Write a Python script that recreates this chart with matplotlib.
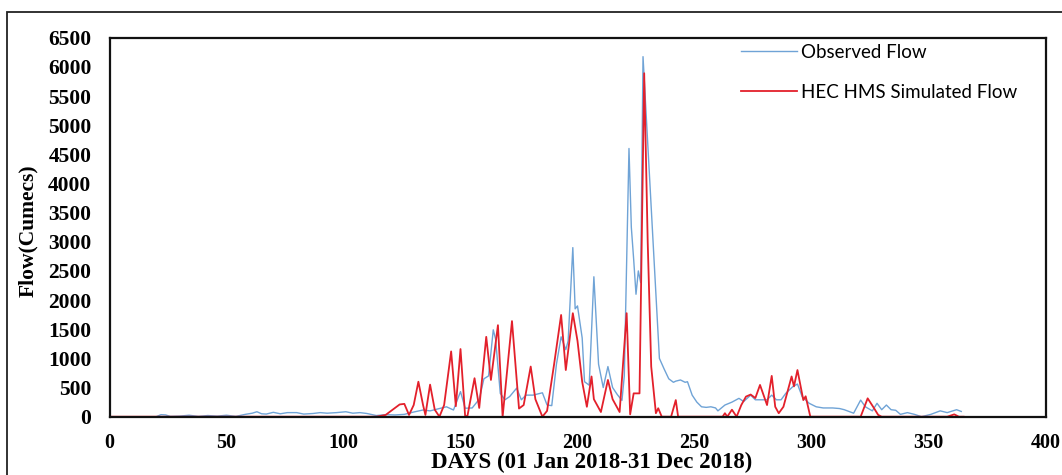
import matplotlib
matplotlib.use("Agg")
import matplotlib.pyplot as plt
from matplotlib.patches import Rectangle

# Observed flow vertices (day, cumecs)
obs_days = [20, 22, 24, 26, 30, 34, 38, 42, 46, 50, 54, 58, 61, 63, 65, 67, 70, 73, 76, 80,
            83, 87, 90, 93, 97, 101, 104, 107, 110, 114, 118, 122, 126, 130, 134, 137, 140,
            144, 147, 150, 152, 155, 158, 160, 162, 164, 165, 167, 169, 171, 174, 176, 178,
            181, 183, 185, 187, 189, 191, 193, 195, 196, 198, 199, 200, 202, 203, 205, 207,
            209, 211, 213, 215, 217, 219, 220, 222, 223, 224, 225, 226, 227, 228, 235, 237,
            239, 241, 242, 244, 246, 247, 249, 251, 253, 255, 257, 259, 260, 263, 266, 269,
            271, 274, 276, 279, 281, 283, 285, 287, 289, 292, 294, 296, 299, 302, 305, 309,
            312, 314, 318, 321, 323, 326, 328, 330, 332, 334, 336, 338, 341, 344, 347, 351,
            355, 358, 362, 364]
obs_flow = [0, 35, 30, 5, 10, 25, 5, 20, 10, 25, 5, 40, 60, 85, 50, 45, 75, 50, 70, 70,
            45, 55, 70, 60, 70, 85, 60, 70, 55, 20, 35, 30, 40, 80, 115, 100, 130,
            170, 115, 430, 145, 150, 300, 650, 700, 1490, 1330, 400, 290, 345, 490, 290, 370,
            370, 390, 410, 200, 190, 900, 1370, 1150, 1300, 2900, 1850, 1900, 1350, 600, 540, 2400,
            900, 500, 860, 500, 380, 280, 700, 4600, 3250, 2700, 2100, 2500, 2300, 6175, 1000, 820,
            650, 590, 610, 630, 590, 600, 370, 250, 170, 160, 170, 150, 100, 200, 250, 315,
            260, 370, 290, 290, 290, 370, 290, 290, 400, 515, 560, 345, 230, 170, 150, 150,
            140, 120, 60, 285, 170, 100, 230, 120, 200, 120, 110, 40, 70, 40, 0, 40,
            100, 70, 120, 90]

# HEC HMS simulated flow vertices
sim_days = [1, 114, 118, 121, 124, 126, 128, 130, 132, 134, 135, 137, 139, 141, 143, 146, 148,
            150, 152, 153, 156, 158, 161, 163, 166, 168, 172, 175, 177, 180, 182, 185, 187, 190,
            193, 195, 198, 200, 202, 204, 206, 207, 210, 213, 215, 218, 221, 222.5, 224, 226.5,
            228.5, 230, 231.5, 233.5, 234.5, 236, 240, 242, 243, 262, 263, 264, 266, 268, 270,
            272, 274, 276, 278, 281, 283, 284.5, 286, 288, 291.5, 292.5, 294, 296.5, 297.5,
            299.5, 321, 324, 326.5, 328.5, 330, 358, 361, 363, 365]
sim_flow = [0, 0, 30, 120, 210, 220, 30, 200, 600, 200, 30, 550, 120, 0, 200, 1120, 180,
            1160, 0, 20, 660, 150, 1370, 630, 1570, 0, 1640, 140, 200, 860, 300, 0, 100, 900,
            1745, 800, 1775, 1300, 600, 170, 690, 300, 80, 630, 300, 80, 1775, 40, 400, 400,
            5890, 3000, 860, 60, 145, 0, 0, 285, 0, 0, 60, 0, 120, 0, 200,
            345, 380, 320, 545, 200, 700, 170, 60, 170, 690, 520, 800, 285, 350,
            0, 0, 315, 160, 30, 0, 0, 40, 0, 0]

x_ticks = list(range(0, 401, 50))
y_ticks = list(range(0, 6501, 500))

W, H = 1062, 475
fig = plt.figure(figsize=(W / 100, H / 100), dpi=100)

# outer frame of the original figure (left and top edges visible)
fig.patches.append(Rectangle((7 / W, -0.05), 1.1, (H - 12) / H + 0.05, transform=fig.transFigure,
                             fill=False, edgecolor="#222222", linewidth=1.3))

ax = fig.add_axes([109.5 / W, (H - 416.7) / H, 936 / W, 379 / H])

ax.plot(obs_days, obs_flow, color="#6fa3d6", linewidth=1.0, label="Observed Flow")
ax.plot(sim_days, sim_flow, color="#e3202b", linewidth=1.3, label="HEC HMS Simulated Flow")

ax.set_xlim(0, 400)
ax.set_ylim(0, 6500)
ax.set_xticks(x_ticks)
ax.set_yticks(y_ticks)
ax.tick_params(axis="x", length=0, pad=12)
ax.tick_params(axis="y", length=0, pad=13)
serif = "Liberation Serif"
ax.set_xticklabels([str(t) for t in x_ticks], family=serif, weight="bold", size=14.5)
ax.set_yticklabels([str(t) for t in y_ticks], family=serif, weight="bold", size=15.5)
for s in ax.spines.values():
    s.set_linewidth(1.6)
    s.set_color("#111111")

ax.set_ylabel("Flow(Cumecs)", family=serif, weight="bold", size=15.5)
ax.yaxis.set_label_coords((38 - 109.5) / 936, 0.49)
fig.text(592 / W, 1 - 462 / H, "DAYS (01 Jan 2018-31 Dec 2018)", ha="center", va="center",
         family=serif, weight="bold", size=16.5)

ax.legend(loc="upper left", bbox_to_anchor=((741 - 109.5) / 936, 1 - (44 - 37.7) / 379),
          frameon=False, prop={"family": "Lato", "size": 13.5}, handlelength=3.0,
          handletextpad=0.2, labelspacing=1.2, borderaxespad=0, borderpad=0)

plt.savefig("out.png", dpi=100)
plt.close()
